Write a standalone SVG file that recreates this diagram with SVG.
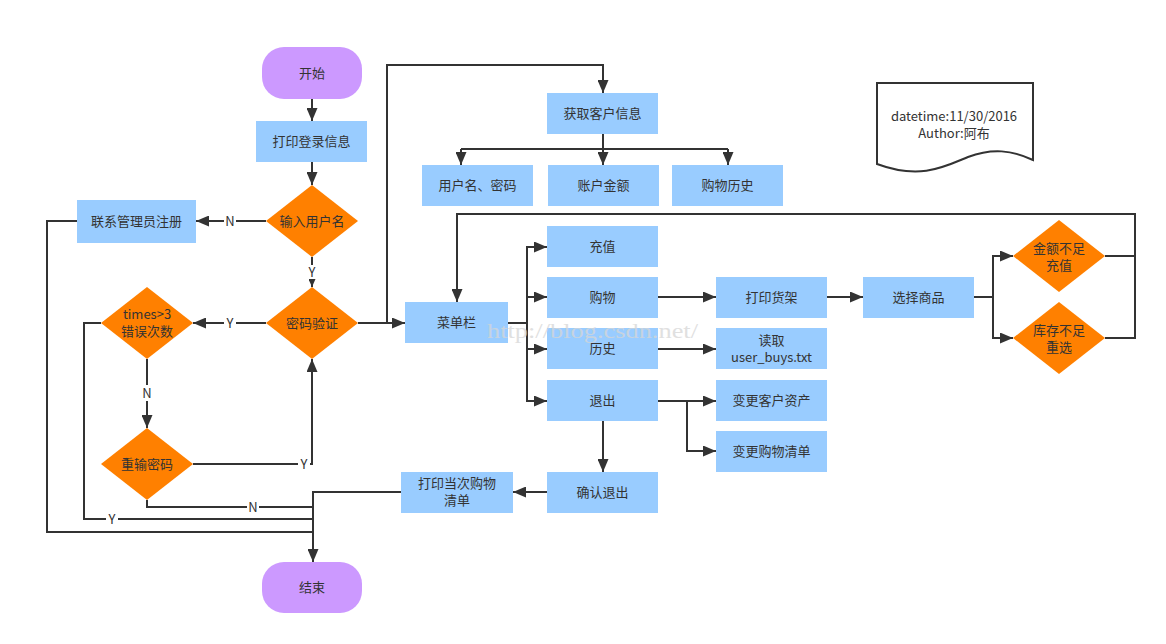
<svg xmlns="http://www.w3.org/2000/svg" width="1166" height="644" viewBox="0 0 1166 644">
<style>
text{font-family:"Noto Sans CJK SC","Liberation Sans",sans-serif;font-size:13px;fill:#333;text-anchor:middle}
.box{fill:#99CCFF}
.term{fill:#CC99FF}
.dec{fill:#FF8000}
.ln{fill:none;stroke:#333;stroke-width:2}
.ar{marker-end:url(#ah)}
.lb{fill:#fff}
.wm{font-family:"Liberation Serif",serif;font-size:22px;fill:#d6d6d6;opacity:0.75;text-anchor:start}
</style>
<defs>
<marker id="ah" markerUnits="userSpaceOnUse" markerWidth="13" markerHeight="11" refX="13" refY="5.5" orient="auto">
<path d="M0,0 L13,5.5 L0,11 Z" fill="#333"/>
</marker>
<marker id="ahs" markerUnits="userSpaceOnUse" markerWidth="8" markerHeight="7" refX="8" refY="3.5" orient="auto">
<path d="M0,0 L8,3.5 L0,7 Z" fill="#333"/>
</marker>
</defs>
<rect width="1166" height="644" fill="#fff"/>

<g id="connectors">
<path class="ln ar" d="M312,99 V121"/>
<path class="ln ar" d="M312,162 V185"/>
<path class="ln ar" d="M266,221 H196"/>
<path class="ln" d="M312,257 V287" marker-end="url(#ahs)"/>
<path class="ln ar" d="M266,323 H193"/>
<path class="ln ar" d="M358,323 H405"/>
<path class="ln ar" d="M387,323 V65 H603 V93"/>
<path class="ln" d="M603,134 V149 M461,149 H728"/>
<path class="ln ar" d="M461,149 V165"/>
<path class="ln ar" d="M603,149 V165"/>
<path class="ln ar" d="M728,149 V165"/>
<path class="ln" d="M508,323 H527 M527,246 V402"/>
<path class="ln ar" d="M527,247 H547"/>
<path class="ln ar" d="M527,297 H547"/>
<path class="ln ar" d="M527,349 H547"/>
<path class="ln ar" d="M527,401 H547"/>
<path class="ln ar" d="M658,297 H716"/>
<path class="ln ar" d="M658,349 H716"/>
<path class="ln ar" d="M658,401 H716"/>
<path class="ln ar" d="M687,401 V451 H716"/>
<path class="ln ar" d="M603,421 V472"/>
<path class="ln ar" d="M547,492 H513"/>
<path class="ln ar" d="M401,492 H313 V562"/>
<path class="ln ar" d="M827,297 H863"/>
<path class="ln" d="M974,297 H993 M993,255 V339"/>
<path class="ln ar" d="M993,256 H1013"/>
<path class="ln ar" d="M993,338 H1013"/>
<path class="ln" d="M1105,256 H1135"/>
<path class="ln ar" d="M1105,338 H1135 V214 H457 V302"/>
<path class="ln" d="M77,221 H47 V532 H313"/>
<path class="ln" d="M101,323 H84 V519 H313"/>
<path class="ln ar" d="M147,359 V428"/>
<path class="ln" d="M147,500 V507 H313"/>
<path class="ln ar" d="M193,464 H312 V359"/>
<g id="labels">
<rect class="lb" x="224" y="213" width="12" height="16"/><text x="230" y="226">N</text>
<rect class="lb" x="306" y="265" width="12" height="14"/><text x="312" y="277">Y</text>
<rect class="lb" x="224" y="315" width="12" height="16"/><text x="230" y="328">Y</text>
<rect class="lb" x="141" y="385" width="12" height="16"/><text x="147" y="398">N</text>
<rect class="lb" x="298" y="456" width="12" height="16"/><text x="304" y="469">Y</text>
<rect class="lb" x="247" y="499" width="12" height="16"/><text x="253" y="512">N</text>
<rect class="lb" x="106" y="511" width="12" height="16"/><text x="112" y="524">Y</text>
</g>
</g>

<g id="start"><rect class="term" x="262" y="47" width="100" height="52" rx="22"/><text x="312" y="78">开始</text></g>
<g id="print_login"><rect class="box" x="256" y="121" width="111" height="41"/><text x="311.5" y="146">打印登录信息</text></g>
<g id="input_user"><polygon class="dec" points="312,185 358,221 312,257 266,221"/><text x="312" y="226">输入用户名</text></g>
<g id="contact_admin"><rect class="box" x="77" y="200" width="119" height="43"/><text x="136.5" y="226">联系管理员注册</text></g>
<g id="pwd_verify"><polygon class="dec" points="312,287 358,323 312,359 266,323"/><text x="312" y="328">密码验证</text></g>
<g id="times_check"><polygon class="dec" points="147,287 193,323 147,359 101,323"/><text x="147" y="319">times&gt;3</text><text x="147" y="336">错误次数</text></g>
<g id="retry_pwd"><polygon class="dec" points="147,428 193,464 147,500 101,464"/><text x="147" y="469">重输密码</text></g>
<g id="end"><rect class="term" x="262" y="562" width="100" height="51" rx="22"/><text x="312" y="592">结束</text></g>
<g id="get_info"><rect class="box" x="547" y="93" width="111" height="41"/><text x="602.5" y="118">获取客户信息</text></g>
<g id="user_pwd"><rect class="box" x="422" y="165" width="111" height="41"/><text x="477.5" y="190">用户名、密码</text></g>
<g id="balance"><rect class="box" x="548" y="165" width="111" height="41"/><text x="603.5" y="190">账户金额</text></g>
<g id="shop_history"><rect class="box" x="672" y="165" width="111" height="41"/><text x="727.5" y="190">购物历史</text></g>
<g id="menu"><rect class="box" x="405" y="302" width="103" height="41"/><text x="456.5" y="327">菜单栏</text></g>
<g id="recharge"><rect class="box" x="547" y="226" width="111" height="41"/><text x="602.5" y="251">充值</text></g>
<g id="shop"><rect class="box" x="547" y="277" width="111" height="41"/><text x="602.5" y="302">购物</text></g>
<g id="history"><rect class="box" x="547" y="328" width="111" height="41"/><text x="602.5" y="353">历史</text></g>
<g id="quit"><rect class="box" x="547" y="380" width="111" height="41"/><text x="602.5" y="405">退出</text></g>
<g id="print_shelf"><rect class="box" x="716" y="277" width="111" height="41"/><text x="771.5" y="302">打印货架</text></g>
<g id="read_file"><rect class="box" x="716" y="328" width="111" height="41"/><text x="771.5" y="345">读取</text><text x="771.5" y="362">user_buys.txt</text></g>
<g id="change_assets"><rect class="box" x="716" y="380" width="111" height="41"/><text x="771.5" y="405">变更客户资产</text></g>
<g id="change_list"><rect class="box" x="716" y="431" width="111" height="41"/><text x="771.5" y="456">变更购物清单</text></g>
<g id="confirm_quit"><rect class="box" x="547" y="472" width="111" height="41"/><text x="602.5" y="497">确认退出</text></g>
<g id="print_list"><rect class="box" x="401" y="472" width="112" height="41"/><text x="457" y="488">打印当次购物</text><text x="457" y="505">清单</text></g>
<g id="select_goods"><rect class="box" x="863" y="277" width="111" height="41"/><text x="918.5" y="302">选择商品</text></g>
<g id="no_money"><polygon class="dec" points="1059,220 1105,256 1059,292 1013,256"/><text x="1059" y="253">金额不足</text><text x="1059" y="270">充值</text></g>
<g id="no_stock"><polygon class="dec" points="1059,302 1105,338 1059,374 1013,338"/><text x="1059" y="335">库存不足</text><text x="1059" y="352">重选</text></g>
<g id="note"><path d="M877,83 H1033 V160 C1012,150 992,148 968,157 C944,167 920,180 877,164 Z" fill="#fff" stroke="#333" stroke-width="2"/><text x="954" y="121">datetime:11/30/2016</text><text x="954" y="138">Author:阿布</text></g>

<text class="wm" x="487" y="338" textLength="211" lengthAdjust="spacingAndGlyphs">http://blog.csdn.net/</text>
</svg>
